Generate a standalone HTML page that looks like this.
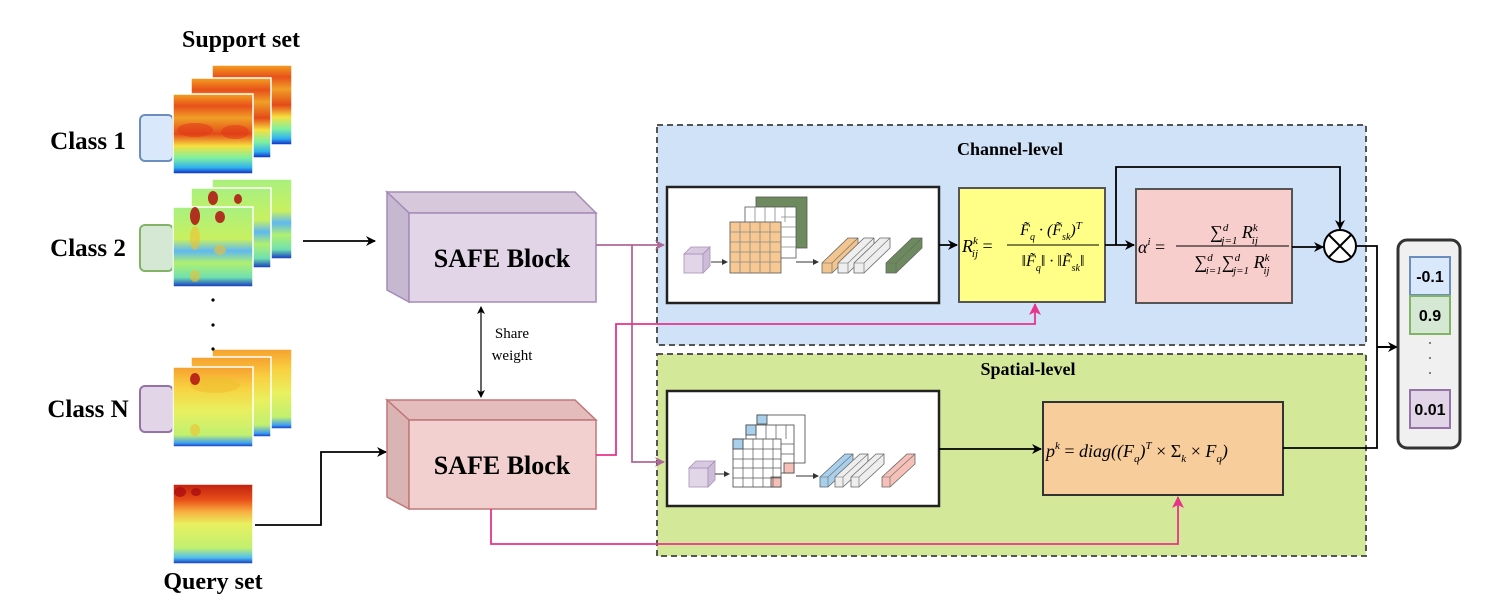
<!DOCTYPE html>
<html><head><meta charset="utf-8"><style>
html,body{margin:0;padding:0;background:#fff;}
svg{display:block}
text{font-family:"Liberation Serif",serif;}
</style></head><body>
<svg width="1504" height="606" viewBox="0 0 1504 606" xmlns="http://www.w3.org/2000/svg">
<defs>
<linearGradient id="h1" x1="0" y1="0" x2="0" y2="1">
<stop offset="0" stop-color="#f4a020"/><stop offset="0.15" stop-color="#e8501a"/><stop offset="0.3" stop-color="#f0a028"/><stop offset="0.5" stop-color="#e44a18"/><stop offset="0.65" stop-color="#f6e040"/><stop offset="0.8" stop-color="#7ef0a0"/><stop offset="0.92" stop-color="#30b0f0"/><stop offset="1" stop-color="#1020c0"/></linearGradient>
<linearGradient id="h2" x1="0" y1="0" x2="0" y2="1">
<stop offset="0" stop-color="#a8f080"/><stop offset="0.4" stop-color="#c8f060"/><stop offset="0.55" stop-color="#60b8f0"/><stop offset="0.7" stop-color="#b0f070"/><stop offset="0.88" stop-color="#70e0b0"/><stop offset="1" stop-color="#1030c0"/></linearGradient>
<linearGradient id="h3" x1="0" y1="0" x2="0" y2="1">
<stop offset="0" stop-color="#f6a030"/><stop offset="0.25" stop-color="#f8d040"/><stop offset="0.55" stop-color="#e8f060"/><stop offset="0.85" stop-color="#c0f070"/><stop offset="0.95" stop-color="#40a0f0"/><stop offset="1" stop-color="#1030c0"/></linearGradient>
<linearGradient id="h4" x1="0" y1="0" x2="0" y2="1">
<stop offset="0" stop-color="#c02010"/><stop offset="0.2" stop-color="#e85018"/><stop offset="0.35" stop-color="#f8b040"/><stop offset="0.5" stop-color="#e8f060"/><stop offset="0.8" stop-color="#c0f070"/><stop offset="0.92" stop-color="#50c0f0"/><stop offset="1" stop-color="#1030c0"/></linearGradient>
<marker id="ab" markerWidth="10" markerHeight="10" refX="9" refY="5" orient="auto" markerUnits="userSpaceOnUse"><path d="M0,0 L10,5 L0,10 L3,5z" fill="#000"/></marker>
<marker id="ap" markerWidth="10" markerHeight="10" refX="9" refY="5" orient="auto" markerUnits="userSpaceOnUse"><path d="M0,0 L10,5 L0,10 L3,5z" fill="#b06898"/></marker>
<marker id="ak" markerWidth="12" markerHeight="12" refX="11" refY="6" orient="auto" markerUnits="userSpaceOnUse"><path d="M0,0 L12,6 L0,12 L3,6z" fill="#e8338a"/></marker>
<marker id="as" markerWidth="8" markerHeight="8" refX="7" refY="4" orient="auto-start-reverse" markerUnits="userSpaceOnUse"><path d="M0,0 L8,4 L0,8 L2,4z" fill="#000"/></marker>
<marker id="am" markerWidth="6" markerHeight="6" refX="5" refY="3" orient="auto" markerUnits="userSpaceOnUse"><path d="M0,0 L6,3 L0,6z" fill="#333"/></marker>
</defs>

<text x="241" y="47" font-size="24" font-weight="bold" text-anchor="middle">Support set</text>
<text x="88" y="149" font-size="25" font-weight="bold" text-anchor="middle">Class 1</text>
<text x="88" y="256" font-size="25" font-weight="bold" text-anchor="middle">Class 2</text>
<text x="88" y="417" font-size="25" font-weight="bold" text-anchor="middle">Class N</text>
<text x="213" y="589" font-size="24" font-weight="bold" text-anchor="middle">Query set</text>
<rect x="140" y="115" width="33" height="46" rx="5" fill="#dae8fc" stroke="#6c8ebf" stroke-width="2"/>
<rect x="140" y="225" width="33" height="46" rx="5" fill="#d5e8d4" stroke="#82b366" stroke-width="2"/>
<rect x="140" y="386" width="33" height="46" rx="5" fill="#e1d5e7" stroke="#9673a6" stroke-width="2"/>

<g stroke="#fff" stroke-width="1.5">
<rect x="212" y="65" width="80" height="80" fill="url(#h1)"/>
<rect x="191" y="78" width="80" height="80" fill="url(#h1)"/>
<rect x="173" y="94" width="80" height="80" fill="url(#h1)"/>
<rect x="212" y="179" width="80" height="80" fill="url(#h2)"/>
<rect x="191" y="188" width="80" height="80" fill="url(#h2)"/>
<rect x="173" y="207" width="80" height="80" fill="url(#h2)"/>
<rect x="212" y="349" width="80" height="80" fill="url(#h3)"/>
<rect x="191" y="357" width="80" height="80" fill="url(#h3)"/>
<rect x="173" y="367" width="80" height="80" fill="url(#h3)"/>
<rect x="173" y="484" width="80" height="80" fill="url(#h4)"/>
</g>
<g fill="#e03818" opacity="0.55">
<ellipse cx="195" cy="130" rx="18" ry="7"/><ellipse cx="235" cy="132" rx="14" ry="7"/>
</g>
<g fill="#f0c030" opacity="0.6">
<ellipse cx="195" cy="238" rx="5" ry="12"/><ellipse cx="220" cy="250" rx="6" ry="5"/><ellipse cx="195" cy="276" rx="5" ry="6"/>
<ellipse cx="195" cy="430" rx="5" ry="6"/><ellipse cx="215" cy="385" rx="25" ry="8"/>
</g>
<g fill="#b01010" opacity="0.85">
<ellipse cx="195" cy="216" rx="5" ry="9"/><ellipse cx="220" cy="217" rx="5" ry="6"/>
<ellipse cx="213" cy="198" rx="5" ry="7"/><ellipse cx="238" cy="199" rx="4" ry="5"/>
<ellipse cx="195" cy="379" rx="5" ry="6"/>
<ellipse cx="180" cy="492" rx="6" ry="5"/><ellipse cx="196" cy="492" rx="5" ry="4"/>
</g>
<g fill="#000"><circle cx="213" cy="300" r="1.6"/><circle cx="213" cy="325" r="1.6"/><circle cx="213" cy="349" r="1.6"/></g>

<line x1="303" y1="241" x2="375" y2="241" stroke="#000" stroke-width="1.8" marker-end="url(#ab)"/>
<polyline points="255,525 321,525 321,452 386,452" fill="none" stroke="#000" stroke-width="1.8" marker-end="url(#ab)"/>

<g stroke="#a68bb8" stroke-width="1.5">
<polygon points="387,192 575,192 596,213 409,213" fill="#d8c8dc"/>
<polygon points="387,192 409,213 409,302 387,290" fill="#c6b8d0"/>
<rect x="409" y="213" width="187" height="89" fill="#e1d5e7"/>
</g>
<text x="502" y="267" font-size="26" font-weight="bold" text-anchor="middle">SAFE Block</text>
<g stroke="#c07878" stroke-width="1.5">
<polygon points="387,400 575,400 596,420 409,420" fill="#e5bcbc"/>
<polygon points="387,400 409,420 409,509 387,497" fill="#dab3b3"/>
<rect x="409" y="420" width="187" height="89" fill="#f2d0d0"/>
</g>
<text x="502" y="474" font-size="26" font-weight="bold" text-anchor="middle">SAFE Block</text>
<line x1="481" y1="307" x2="481" y2="397" stroke="#000" stroke-width="1.2" marker-start="url(#as)" marker-end="url(#as)"/>
<text x="512" y="338" font-size="15" text-anchor="middle">Share</text>
<text x="512" y="360" font-size="15" text-anchor="middle">weight</text>

<rect x="657" y="125" width="709" height="220" fill="#cfe2f8" stroke="#555" stroke-width="2" stroke-dasharray="6,4"/>
<rect x="657" y="354" width="709" height="202" fill="#d4e89a" stroke="#555" stroke-width="2" stroke-dasharray="6,4"/>
<text x="1010" y="155" font-size="18" font-weight="bold" text-anchor="middle">Channel-level</text>
<text x="1028" y="375" font-size="18" font-weight="bold" text-anchor="middle">Spatial-level</text>

<polyline points="596,245 632,245 632,462 664,462" fill="none" stroke="#b06898" stroke-width="1.8" marker-end="url(#ap)"/>
<line x1="632" y1="245" x2="664" y2="245" stroke="#b06898" stroke-width="1.8" marker-end="url(#ap)"/>
<polyline points="596,455 616,455 616,324 1035,324 1035,304" fill="none" stroke="#e8338a" stroke-width="1.8" marker-end="url(#ak)"/>
<polyline points="491,509 491,544 1178,544 1178,497" fill="none" stroke="#e8338a" stroke-width="1.8" marker-end="url(#ak)"/>

<!-- white box 1 -->
<rect x="667" y="187" width="272" height="116" fill="#fff" stroke="#222" stroke-width="2.5"/>
<g stroke="#555" stroke-width="0.8">
<rect x="756" y="197" width="51" height="51" fill="#6d8a5e"/>
<rect x="745" y="207" width="51" height="51" fill="#fff"/>
<rect x="730" y="222" width="51" height="51" fill="#f7c892"/>
</g>
<g stroke="#888" stroke-width="0.8" fill="none">
<path d="M740,222V273M750,222V273M760,222V273M770,222V273M730,232H781M730,242H781M730,252H781M730,262H781"/>
<path d="M755,207V222M765,207V222M775,207V222M785,207V222M781,217H796M781,227H796M781,237H796M781,247H796"/>
</g>
<g stroke="#a890b8" stroke-width="0.8">
<rect x="684" y="254" width="19" height="19" fill="#e1d5e7"/>
<polygon points="684,254 691,247 710,247 703,254" fill="#d8c8e0"/>
<polygon points="703,254 710,247 710,266 703,273" fill="#cdbcd8"/>
</g>
<line x1="711" y1="262" x2="727" y2="262" stroke="#333" marker-end="url(#am)"/>
<line x1="796" y1="262" x2="818" y2="262" stroke="#333" marker-end="url(#am)"/>
<g stroke="#666" stroke-width="0.8">
<polygon points="822,263 848,238 858,238 858,248 832,273 822,273" fill="#f2c48e"/>
<polygon points="838,263 864,238 874,238 874,248 848,273 838,273" fill="#eee"/>
<polygon points="854,263 880,238 890,238 890,248 864,273 854,273" fill="#eee"/>
<polygon points="886,263 912,238 922,238 922,248 896,273 886,273" fill="#6d8a5e"/>
</g>
<g stroke="#666" stroke-width="0.6" fill="none">
<path d="M822,263H832L858,238M832,263V273M838,263H848L874,238M848,263V273M854,263H864L890,238M864,263V273M886,263H896L922,238M896,263V273"/>
</g>
<!-- white box 2 -->
<rect x="667" y="391" width="272" height="115" fill="#fff" stroke="#222" stroke-width="2.5"/>
<g stroke="#444" stroke-width="0.8">
<rect x="757" y="415" width="48" height="48" fill="#fff"/>
<rect x="746" y="425" width="48" height="48" fill="#fff"/>
<rect x="733" y="439" width="48" height="48" fill="#fff"/>
<rect x="757" y="415" width="10" height="9" fill="#a8d0ec"/>
<rect x="746" y="425" width="10" height="10" fill="#a8d0ec"/>
<rect x="733" y="439" width="10" height="10" fill="#a8d0ec"/>
<rect x="771" y="477" width="10" height="10" fill="#f5c0b8"/>
<rect x="784" y="463" width="10" height="10" fill="#f5c0b8"/>
</g>
<g stroke="#555" stroke-width="0.7" fill="none">
<path d="M743,439V487M753,439V487M763,439V487M773,439V487M733,449H781M733,459H781M733,468H781M733,478H781"/>
<path d="M756,425V439M766,425V439M776,425V439M786,425V439M781,444H794M781,454H794"/>
</g>
<g stroke="#a890b8" stroke-width="0.8">
<rect x="689" y="468" width="19" height="19" fill="#e1d5e7"/>
<polygon points="689,468 696,461 715,461 708,468" fill="#d8c8e0"/>
<polygon points="708,468 715,461 715,480 708,487" fill="#cdbcd8"/>
</g>
<line x1="715" y1="474" x2="729" y2="474" stroke="#333" marker-end="url(#am)"/>
<line x1="796" y1="476" x2="818" y2="476" stroke="#333" marker-end="url(#am)"/>
<g stroke="#666" stroke-width="0.8">
<polygon points="820,477 845,454 853,454 853,464 828,487 820,487" fill="#a8d0ec"/>
<polygon points="835,477 860,454 868,454 868,464 843,487 835,487" fill="#eee"/>
<polygon points="851,477 876,454 884,454 884,464 859,487 851,487" fill="#eee"/>
<polygon points="882,477 907,454 915,454 915,464 890,487 882,487" fill="#f5c0b8"/>
</g>
<g stroke="#666" stroke-width="0.6" fill="none">
<path d="M820,477H828L853,454M828,477V487M835,477H843L868,454M843,477V487M851,477H859L884,454M859,477V487M882,477H890L915,454M890,477V487"/>
</g>

<rect x="959" y="188" width="146" height="114" fill="#ffff88" stroke="#555" stroke-width="2"/>
<rect x="1136" y="189" width="156" height="114" fill="#f8cecc" stroke="#555" stroke-width="2"/>
<rect x="1043" y="402" width="240" height="93" fill="#f8cd9c" stroke="#333" stroke-width="2"/>
<g font-style="italic" font-size="18">
<text x="962" y="252">R<tspan font-size="11" dy="-8">k</tspan><tspan font-size="11" dx="-6" dy="13">ij</tspan><tspan dy="-5" font-style="normal"> =</tspan></text>
<text x="1051" y="235" text-anchor="middle" font-size="16">F̃<tspan font-size="10" dy="5">q</tspan><tspan dy="-5"> · (F̃</tspan><tspan font-size="10" dy="5">sk</tspan><tspan dy="-5">)</tspan><tspan font-size="11" dy="-6">T</tspan></text>
<line x1="1007" y1="245" x2="1099" y2="245" stroke="#000" stroke-width="1"/>
<text x="1053" y="266" text-anchor="middle" font-size="16">‖F̃<tspan font-size="10" dy="5">q</tspan><tspan dy="-5">‖ · ‖F̃</tspan><tspan font-size="10" dy="5">sk</tspan><tspan dy="-5">‖</tspan></text>
<text x="1138" y="253">α<tspan font-size="11" dy="-8">i</tspan><tspan dy="8" font-style="normal"> =</tspan></text>
<text x="1234" y="238" text-anchor="middle">∑<tspan font-size="11" dy="-7">d</tspan><tspan font-size="11" dx="-7" dy="13">j=1</tspan><tspan dy="-6"> R</tspan><tspan font-size="11" dy="-7">k</tspan><tspan font-size="11" dx="-6" dy="13">ij</tspan></text>
<line x1="1176" y1="246" x2="1289" y2="246" stroke="#000" stroke-width="1"/>
<text x="1232" y="268" text-anchor="middle">∑<tspan font-size="11" dy="-7">d</tspan><tspan font-size="11" dx="-7" dy="13">i=1</tspan><tspan dy="-6">∑</tspan><tspan font-size="11" dy="-7">d</tspan><tspan font-size="11" dx="-7" dy="13">j=1</tspan><tspan dy="-6"> R</tspan><tspan font-size="11" dy="-7">k</tspan><tspan font-size="11" dx="-6" dy="13">ij</tspan></text>
<text x="1046" y="457" font-size="18">p<tspan font-size="11" dy="-8">k</tspan><tspan dy="8" font-style="normal"> = </tspan>diag((F<tspan font-size="11" dy="5">q</tspan><tspan dy="-5">)</tspan><tspan font-size="11" dy="-8">T</tspan><tspan dy="8" font-style="normal"> × Σ</tspan><tspan font-size="11" dy="5">k</tspan><tspan dy="-5" font-style="normal"> × </tspan>F<tspan font-size="11" dy="5">q</tspan><tspan dy="-5">)</tspan></text>
</g>

<line x1="939" y1="245" x2="957" y2="245" stroke="#000" stroke-width="1.8" marker-end="url(#ab)"/>
<line x1="1105" y1="245" x2="1134" y2="245" stroke="#000" stroke-width="1.8" marker-end="url(#ab)"/>
<polyline points="1116,245 1116,167 1340,167 1340,229" fill="none" stroke="#000" stroke-width="1.8" marker-end="url(#ab)"/>
<line x1="1292" y1="247" x2="1323" y2="247" stroke="#000" stroke-width="1.8" marker-end="url(#ab)"/>
<line x1="939" y1="449" x2="1041" y2="449" stroke="#000" stroke-width="1.8" marker-end="url(#ab)"/>
<circle cx="1340" cy="246" r="16" fill="#fff" stroke="#000" stroke-width="2"/>
<path d="M1329,235 L1351,257 M1351,235 L1329,257" stroke="#000" stroke-width="2"/>
<polyline points="1356,246 1377,246 1377,448 1283,448" fill="none" stroke="#000" stroke-width="1.8"/>
<line x1="1377" y1="347" x2="1397" y2="347" stroke="#000" stroke-width="2" marker-end="url(#ab)"/>

<rect x="1398" y="240" width="62" height="208" rx="9" fill="#f0f0f0" stroke="#333" stroke-width="3"/>
<rect x="1410" y="257" width="40" height="38" fill="#dae8fc" stroke="#6c8ebf" stroke-width="2"/>
<rect x="1410" y="296" width="40" height="38" fill="#d5e8d4" stroke="#82b366" stroke-width="2"/>
<rect x="1410" y="390" width="40" height="38" fill="#e1d5e7" stroke="#9673a6" stroke-width="2"/>
<g font-size="16" font-weight="bold" text-anchor="middle">
<text x="1430" y="282" style="font-family:'Liberation Sans',sans-serif">-0.1</text>
<text x="1430" y="321" style="font-family:'Liberation Sans',sans-serif">0.9</text>
<text x="1430" y="415" style="font-family:'Liberation Sans',sans-serif">0.01</text>
</g>
<g fill="#333"><circle cx="1430" cy="343" r="0.9"/><circle cx="1430" cy="358" r="0.9"/><circle cx="1430" cy="373" r="0.9"/></g>
</svg>
</body></html>
